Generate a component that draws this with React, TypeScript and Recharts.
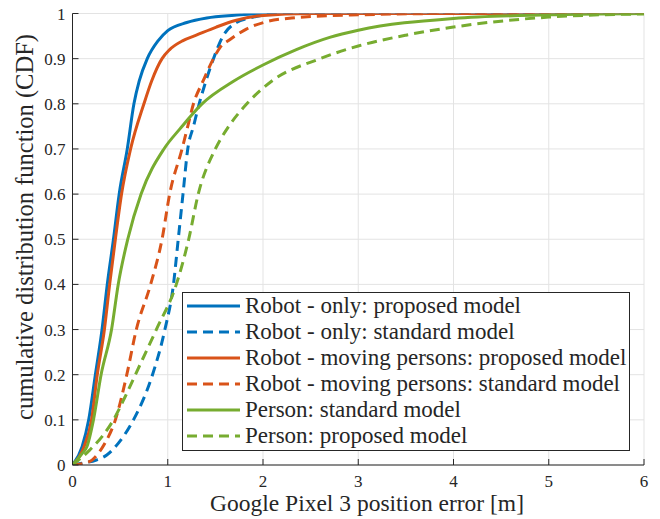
import { LineChart, Line, XAxis, YAxis, CartesianGrid, Legend } from 'recharts'

const FONT = '"Liberation Serif", "DejaVu Serif", serif'
const AXIS = '#262626'
const GRID = '#e3e3e3'
const BLUE = '#0072BD'
const ORANGE = '#D95319'
const GREEN = '#77AC30'

const xTicks = [0, 1, 2, 3, 4, 5, 6]
const yTicks = [0, 0.1, 0.2, 0.3, 0.4, 0.5, 0.6, 0.7, 0.8, 0.9, 1]
const yTickLabels = ['0', '0.1', '0.2', '0.3', '0.4', '0.5', '0.6', '0.7', '0.8', '0.9', '1']
const xTitle = 'Google Pixel 3 position error [m]'
const yTitle = 'cumulative distribution function (CDF)'

// [error in m, CDF]
const robotOnlyProposed = [
  [0, 0], [0.1, 0.04], [0.17, 0.1], [0.24, 0.2], [0.31, 0.3], [0.365, 0.4], [0.43, 0.5],
  [0.49, 0.6], [0.575, 0.7], [0.645, 0.8], [0.7, 0.85], [0.785, 0.9], [0.9, 0.94],
  [1.0, 0.962], [1.2, 0.98], [1.41, 0.99], [1.7, 0.996], [2.0, 1], [6, 1],
]
const robotOnlyStandard = [
  [0, 0], [0.1, 0.004], [0.25, 0.011], [0.36, 0.022], [0.48, 0.048], [0.64, 0.1],
  [0.84, 0.2], [0.97, 0.3], [1.06, 0.4], [1.11, 0.5], [1.16, 0.6], [1.21, 0.7],
  [1.27, 0.75], [1.33, 0.8], [1.4, 0.85], [1.48, 0.9], [1.58, 0.95], [1.72, 0.98],
  [1.86, 0.99], [2.2, 1], [6, 1],
]
const movingProposed = [
  [0, 0], [0.12, 0.04], [0.2, 0.1], [0.26, 0.2], [0.335, 0.3], [0.39, 0.4], [0.45, 0.5],
  [0.515, 0.6], [0.61, 0.7], [0.75, 0.8], [0.83, 0.85], [0.94, 0.9], [1.02, 0.92],
  [1.16, 0.94], [1.3, 0.952], [1.51, 0.97], [1.72, 0.985], [1.97, 0.995], [2.5, 1], [6, 1],
]
const movingStandard = [
  [0, 0], [0.1, 0.003], [0.2, 0.01], [0.24, 0.018], [0.34, 0.048], [0.45, 0.1],
  [0.57, 0.2], [0.67, 0.3], [0.82, 0.4], [0.94, 0.5], [1.02, 0.6], [1.15, 0.7],
  [1.21, 0.75], [1.27, 0.8], [1.37, 0.85], [1.48, 0.9], [1.55, 0.925], [1.65, 0.942],
  [1.83, 0.966], [2.04, 0.982], [2.3, 0.99], [3, 0.997], [4, 1], [6, 1],
]
const personStandard = [
  [0, 0], [0.1, 0.025], [0.15, 0.04], [0.22, 0.1], [0.3, 0.2], [0.41, 0.3], [0.48, 0.4],
  [0.58, 0.5], [0.72, 0.6], [0.96, 0.7], [1.13, 0.745], [1.36, 0.8], [1.69, 0.85],
  [2.0, 0.886], [2.35, 0.92], [2.7, 0.947], [3.0, 0.963], [4, 0.989], [5, 0.997], [6, 1],
]
const personProposed = [
  [0, 0], [0.18, 0.033], [0.31, 0.063], [0.43, 0.1], [0.55, 0.15], [0.66, 0.2],
  [0.88, 0.3], [1.09, 0.4], [1.22, 0.5], [1.32, 0.6], [1.5, 0.7], [1.64, 0.75],
  [1.83, 0.8], [2.09, 0.85], [2.6, 0.9], [3.0, 0.928], [3.5, 0.952], [4, 0.97],
  [5, 0.992], [6, 0.999],
]

const series = [
  { name: 'Robot - only: proposed model', color: BLUE, dashed: false, points: robotOnlyProposed },
  { name: 'Robot - only: standard model', color: BLUE, dashed: true, points: robotOnlyStandard },
  { name: 'Robot - moving persons: proposed model', color: ORANGE, dashed: false, points: movingProposed },
  { name: 'Robot - moving persons: standard model', color: ORANGE, dashed: true, points: movingStandard },
  { name: 'Person: standard model', color: GREEN, dashed: false, points: personStandard },
  { name: 'Person: proposed model', color: GREEN, dashed: true, points: personProposed },
]

const DASH = '10 6'

function BottomTick({ x, y, payload }: any) {
  return (
    <g>
      <line x1={x} x2={x} y1={y} y2={y - 6} stroke={AXIS} />
      <text x={x} y={y + 21.5} textAnchor="middle" fontFamily={FONT} fontSize={17} fill={AXIS}>
        {payload.value}
      </text>
    </g>
  )
}

function TopTick({ x, y }: any) {
  return <line x1={x} x2={x} y1={y} y2={y + 6} stroke={AXIS} />
}

function LeftTick({ x, y, index }: any) {
  return (
    <g>
      <line x1={x} x2={x + 6} y1={y} y2={y} stroke={AXIS} />
      <text x={x - 7} y={y + 6} textAnchor="end" fontFamily={FONT} fontSize={17} fill={AXIS}>
        {yTickLabels[index]}
      </text>
    </g>
  )
}

function RightTick({ x, y }: any) {
  return <line x1={x} x2={x - 6} y1={y} y2={y} stroke={AXIS} />
}

function XTitle() {
  return (
    <text x={367} y={511} textAnchor="middle" fontFamily={FONT} fontSize={23.5} fill={AXIS}>
      {xTitle}
    </text>
  )
}

function YTitle() {
  const cx = 33
  const cy = 227
  return (
    <text
      x={cx}
      y={cy}
      transform={`rotate(-90 ${cx} ${cy})`}
      textAnchor="middle"
      fontFamily={FONT}
      fontSize={24.5}
      fill={AXIS}
    >
      {yTitle}
    </text>
  )
}

function LegendBox() {
  return (
    <div
      style={{
        boxSizing: 'border-box',
        width: 448,
        height: 159,
        border: `1px solid ${AXIS}`,
        background: '#fff',
        fontFamily: FONT,
        fontSize: 23,
        color: AXIS,
      }}
    >
      {series.map((s) => (
        <div key={s.name} style={{ height: 26, display: 'flex', alignItems: 'center', whiteSpace: 'nowrap' }}>
          <svg width={62} height={26} style={{ flex: 'none' }}>
            <line
              x1={4}
              x2={57}
              y1={13}
              y2={13}
              stroke={s.color}
              strokeWidth={3}
              strokeDasharray={s.dashed ? DASH : undefined}
            />
          </svg>
          <span style={{ lineHeight: '26px', fontFamily: FONT }}>{s.name}</span>
        </div>
      ))}
    </div>
  )
}

export default function App() {
  return (
    <div style={{ position: 'absolute', left: 0, top: 0, background: '#fff' }}>
      <LineChart width={660} height={519} margin={{ top: 13.5, right: 16, bottom: 0, left: 12.5 }}>
        <CartesianGrid stroke={GRID} strokeWidth={1} />
        <XAxis
          type="number"
          dataKey="x"
          domain={[0, 6]}
          ticks={xTicks}
          height={54}
          tickSize={0}
          tickMargin={0}
          tickLine={false}
          axisLine={{ stroke: AXIS }}
          tick={<BottomTick />}
          interval={0}
          allowDataOverflow
          label={<XTitle />}
        />
        <XAxis
          xAxisId="top"
          orientation="top"
          type="number"
          domain={[0, 6]}
          ticks={xTicks}
          height={0}
          tickSize={0}
          tickMargin={0}
          tickLine={false}
          axisLine={{ stroke: AXIS }}
          tick={<TopTick />}
          interval={0}
        />
        <YAxis
          type="number"
          domain={[0, 1]}
          ticks={yTicks}
          width={60}
          tickSize={0}
          tickMargin={0}
          tickLine={false}
          axisLine={{ stroke: AXIS }}
          tick={<LeftTick />}
          interval={0}
          allowDataOverflow
          label={<YTitle />}
        />
        <YAxis
          yAxisId="right"
          orientation="right"
          type="number"
          domain={[0, 1]}
          ticks={yTicks}
          width={0}
          tickSize={0}
          tickMargin={0}
          tickLine={false}
          axisLine={{ stroke: AXIS }}
          tick={<RightTick />}
          interval={0}
        />
        {series.map((s) => (
          <Line
            key={s.name}
            name={s.name}
            data={s.points.map(([x, y]) => ({ x, y }))}
            dataKey="y"
            type="monotone"
            stroke={s.color}
            strokeWidth={3}
            strokeDasharray={s.dashed ? DASH : undefined}
            dot={false}
            activeDot={false}
            isAnimationActive={false}
          />
        ))}
        <Legend
          layout="vertical"
          align="center"
          verticalAlign="middle"
          wrapperStyle={{ position: 'absolute', left: 182, top: 292, width: 448, height: 159 }}
          content={<LegendBox />}
        />
      </LineChart>
    </div>
  )
}
